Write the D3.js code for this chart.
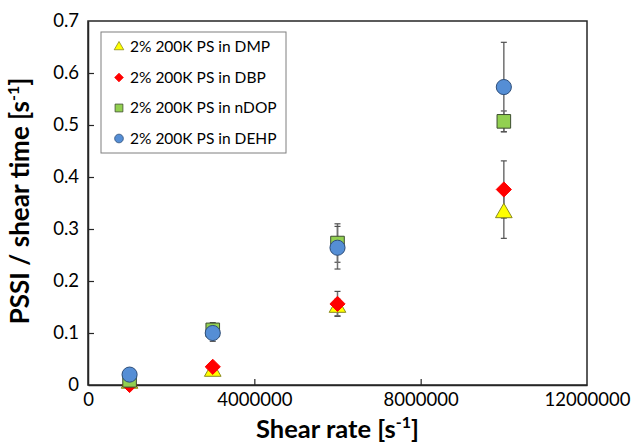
<!DOCTYPE html>
<html><head><meta charset="utf-8">
<script src="https://cdn.jsdelivr.net/npm/d3@7"></script>
<style>body{margin:0;background:#fff}svg{display:block}</style>
</head><body>
<svg id="c" width="633" height="444"></svg>
<script>
const shearRates = [1000000, 3000000, 6000000, 10000000];
const seriesNames = ["2% 200K PS in DMP","2% 200K PS in DBP","2% 200K PS in nDOP","2% 200K PS in DEHP"];
const dmp  = [0.003, 0.026, 0.149, 0.331];
const dbp  = [0.000, 0.035, 0.156, 0.376];
const ndop = [0.009, 0.106, 0.273, 0.507];
const dehp = [0.020, 0.100, 0.264, 0.573];
const dmpErr  = [0.002, 0.005, 0.016, 0.049];
const dbpErr  = [0.002, 0.005, 0.024, 0.055];
const ndopErr = [0.003, 0.014, 0.037, 0.020];
const dehpErr = [0.003, 0.016, 0.041, 0.086];
const xTicks = [0, 4000000, 8000000, 12000000];
const yTicks = [0, 0.1, 0.2, 0.3, 0.4, 0.5, 0.6, 0.7];

const squareDiamond = {
  draw(ctx, size) {
    const r = Math.sqrt(size / 2);
    ctx.moveTo(0, -r); ctx.lineTo(r, 0); ctx.lineTo(0, r); ctx.lineTo(-r, 0); ctx.closePath();
  }
};

const series = [
  {name: seriesNames[0], v: dmp,  e: dmpErr,  shape: d3.symbolTriangle, size: 120, fill: "#FFFF00", stroke: "#8a8a20"},
  {name: seriesNames[1], v: dbp,  e: dbpErr,  shape: squareDiamond,     size: 115, fill: "#FF0000", stroke: "#FF0000"},
  {name: seriesNames[2], v: ndop, e: ndopErr, shape: d3.symbolSquare,   size: 185, fill: "#92D050", stroke: "#3d4d30"},
  {name: seriesNames[3], v: dehp, e: dehpErr, shape: d3.symbolCircle,   size: 180, fill: "#558ED5", stroke: "#2f4f7a"}
];

const svg = d3.select("#c");
const m = {l: 88, r: 587, t: 21, b: 385};
const x = d3.scaleLinear().domain([0, 12000000]).range([m.l, m.r]);
const y = d3.scaleLinear().domain([0, 0.7]).range([m.b, m.t]);
const font = "Lato, 'Open Sans', sans-serif";

// frame
svg.append("rect").attr("x", m.l).attr("y", m.t).attr("width", m.r - m.l).attr("height", m.b - m.t)
  .attr("fill", "none").attr("stroke", "#262626").attr("stroke-width", 1.5);

const xAxis = svg.append("g").attr("transform", `translate(0,${m.b})`)
  .call(d3.axisBottom(x).tickValues(xTicks).tickSizeInner(-6).tickSizeOuter(0).tickPadding(8).tickFormat(d3.format("d")));
const yAxis = svg.append("g").attr("transform", `translate(${m.l},0)`)
  .call(d3.axisLeft(y).tickValues(yTicks).tickSizeInner(-6).tickSizeOuter(0).tickPadding(9).tickFormat(d => d === 0 ? "0" : d3.format(".1f")(d)));
[xAxis, yAxis].forEach(a => {
  a.select(".domain").attr("stroke", "#262626").attr("stroke-width", 1.5);
  a.selectAll(".tick line").attr("stroke", "#262626").attr("stroke-width", 1.2);
  a.selectAll(".tick text").attr("font-family", font).attr("font-size", 18.5).attr("fill", "#000");
});
xAxis.selectAll(".tick line").filter(d => d === 0 || d === 12000000).remove();
yAxis.selectAll(".tick line").filter(d => d === 0 || d === 0.7).remove();

// error bars
const eb = svg.append("g");
series.forEach(s => {
  shearRates.forEach((r, i) => {
    const cx = x(r), y1 = y(s.v[i] + s.e[i]), y0 = y(s.v[i] - s.e[i]);
    eb.append("line").attr("x1", cx).attr("x2", cx).attr("y1", y0).attr("y2", y1).attr("stroke", "#707070").attr("stroke-width", 1.5);
    [y0, y1].forEach(yy => eb.append("line").attr("x1", cx - 3).attr("x2", cx + 3).attr("y1", yy).attr("y2", yy).attr("stroke", "#505050").attr("stroke-width", 1.2));
  });
});

// markers
series.forEach(s => {
  svg.append("g").selectAll("path").data(shearRates).join("path")
    .attr("transform", (r, i) => `translate(${x(r)},${y(s.v[i])})`)
    .attr("d", d3.symbol().type(s.shape).size(s.size))
    .attr("fill", s.fill).attr("stroke", s.stroke).attr("stroke-width", 1);
});

// legend
const lg = svg.append("g");
lg.append("rect").attr("x", 101).attr("y", 32).attr("width", 185).attr("height", 121)
  .attr("fill", "#fff").attr("stroke", "#7f7f7f").attr("stroke-width", 1);
series.forEach((s, i) => {
  const yy = 47 + i * 30.5;
  lg.append("path").attr("transform", `translate(119,${yy})`)
    .attr("d", d3.symbol().type(s.shape).size(s.size * 0.33))
    .attr("fill", s.fill).attr("stroke", s.stroke).attr("stroke-width", 0.8);
  lg.append("text").attr("x", 130).attr("y", yy).attr("dy", "0.35em")
    .attr("font-family", font).attr("font-size", 15.5).attr("fill", "#000").text(s.name);
});

// axis titles
const xt = svg.append("text").attr("x", (m.l + m.r) / 2).attr("y", 437.5).attr("text-anchor", "middle")
  .attr("font-family", font).attr("font-size", 25.5).attr("font-weight", "bold").attr("fill", "#000");
xt.append("tspan").text("Shear rate [s");
xt.append("tspan").attr("dy", -10).attr("font-size", 16).text("-1");
xt.append("tspan").attr("dy", 10).text("]");

const yt = svg.append("text").attr("transform", `translate(29,201) rotate(-90)`).attr("text-anchor", "middle")
  .attr("font-family", font).attr("font-size", 26).attr("font-weight", "bold").attr("fill", "#000");
yt.append("tspan").text("PSSI / shear time [s");
yt.append("tspan").attr("dy", -10).attr("font-size", 16).text("-1");
yt.append("tspan").attr("dy", 10).text("]");
</script>
</body></html>
